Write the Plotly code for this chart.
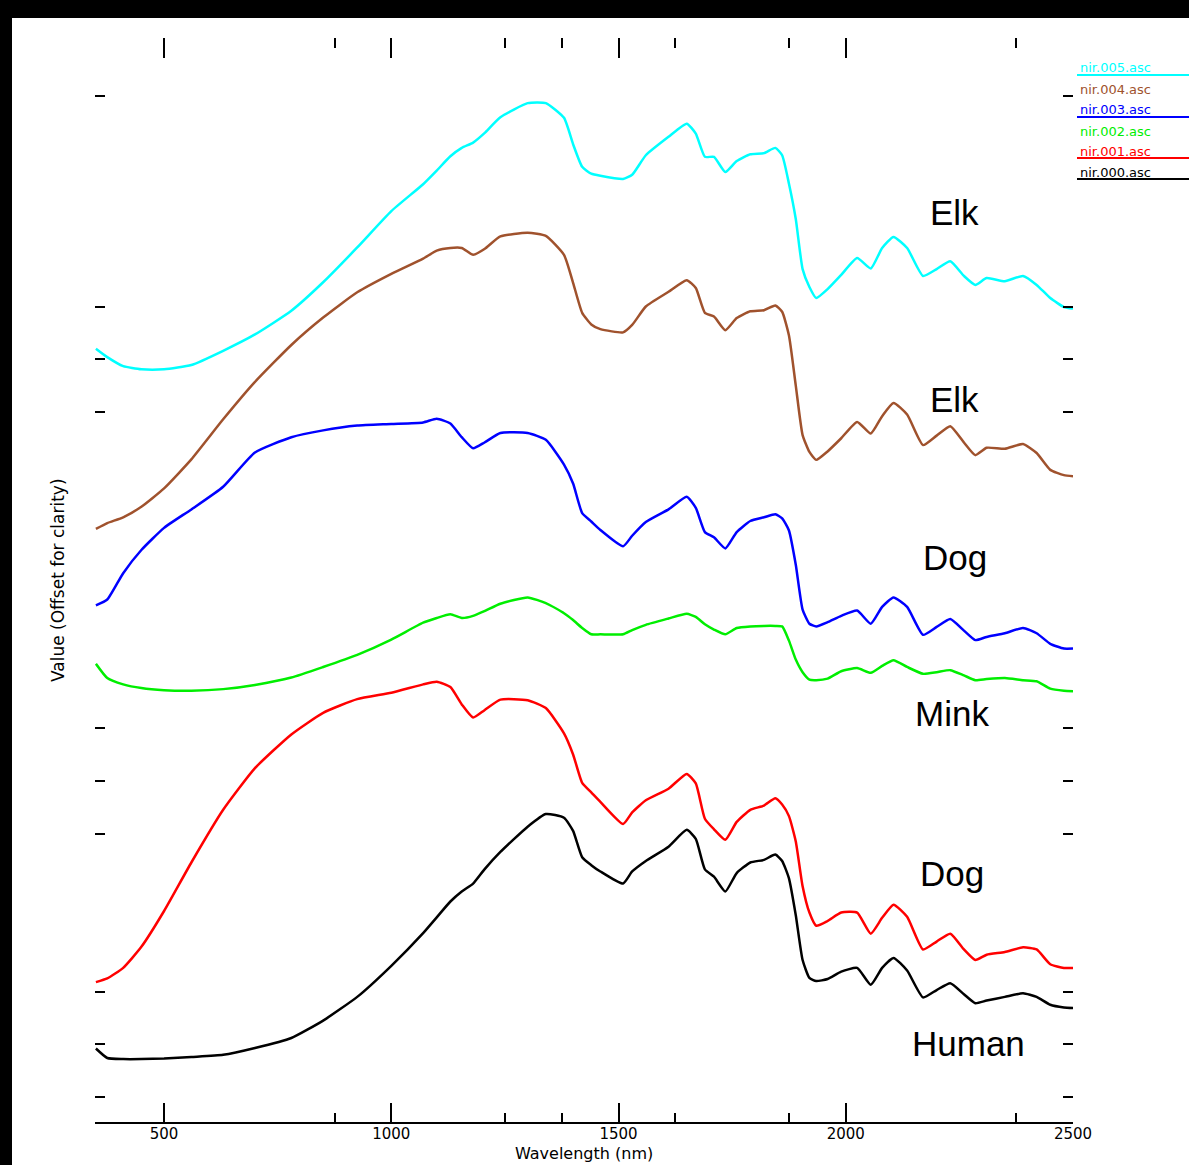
import plotly.graph_objects as go

# Wavelength grid (nm)
wavelength = [350, 375, 410, 450, 500, 560, 630, 700, 780, 850,
              925, 1000, 1070, 1100, 1130, 1155, 1180, 1205, 1240, 1300,
              1340, 1380, 1400, 1420, 1440, 1460, 1510, 1530, 1560, 1610,
              1650, 1670, 1690, 1710, 1735, 1760, 1790, 1820, 1845, 1860,
              1875, 1890, 1905, 1920, 1935, 1960, 1990, 2025, 2055, 2080,
              2105, 2135, 2170, 2200, 2230, 2260, 2285, 2310, 2350, 2390,
              2420, 2450, 2480, 2500]

elk_a = [1.420, 1.404, 1.387, 1.381, 1.381, 1.389, 1.416, 1.447, 1.492, 1.546,
         1.612, 1.681, 1.732, 1.758, 1.785, 1.801, 1.811, 1.829, 1.859, 1.886,
         1.886, 1.858, 1.808, 1.765, 1.752, 1.748, 1.742, 1.750, 1.787, 1.822,
         1.847, 1.828, 1.784, 1.784, 1.755, 1.776, 1.789, 1.791, 1.801, 1.787,
         1.733, 1.666, 1.571, 1.537, 1.516, 1.533, 1.560, 1.592, 1.572, 1.611,
         1.632, 1.611, 1.558, 1.571, 1.586, 1.558, 1.541, 1.554, 1.548, 1.558,
         1.541, 1.516, 1.499, 1.496]

elk_b = [1.078, 1.089, 1.100, 1.120, 1.155, 1.210, 1.286, 1.357, 1.427, 1.479,
         1.527, 1.562, 1.591, 1.606, 1.611, 1.611, 1.598, 1.609, 1.633, 1.640,
         1.634, 1.598, 1.545, 1.488, 1.466, 1.457, 1.451, 1.465, 1.500, 1.528,
         1.550, 1.535, 1.488, 1.481, 1.455, 1.478, 1.491, 1.493, 1.502, 1.490,
         1.445, 1.350, 1.256, 1.224, 1.209, 1.225, 1.250, 1.281, 1.259, 1.292,
         1.317, 1.295, 1.237, 1.255, 1.273, 1.242, 1.218, 1.232, 1.230, 1.239,
         1.222, 1.190, 1.180, 1.178]

dog_a = [0.933, 0.944, 0.994, 1.038, 1.080, 1.115, 1.158, 1.223, 1.252, 1.265,
         1.274, 1.277, 1.280, 1.287, 1.278, 1.252, 1.231, 1.242, 1.260, 1.260,
         1.247, 1.200, 1.164, 1.108, 1.092, 1.076, 1.045, 1.065, 1.091, 1.115,
         1.139, 1.118, 1.072, 1.062, 1.041, 1.072, 1.093, 1.100, 1.106, 1.098,
         1.075, 1.010, 0.925, 0.898, 0.893, 0.901, 0.913, 0.923, 0.898, 0.930,
         0.948, 0.930, 0.877, 0.892, 0.907, 0.885, 0.867, 0.873, 0.880, 0.890,
         0.880, 0.860, 0.851, 0.851]

mink = [0.822, 0.795, 0.783, 0.776, 0.772, 0.771, 0.774, 0.782, 0.796, 0.816,
        0.839, 0.868, 0.900, 0.909, 0.916, 0.909, 0.913, 0.922, 0.936, 0.948,
        0.937, 0.918, 0.905, 0.890, 0.878, 0.878, 0.878, 0.886, 0.896, 0.908,
        0.917, 0.911, 0.897, 0.887, 0.878, 0.890, 0.893, 0.894, 0.894, 0.893,
        0.866, 0.830, 0.806, 0.792, 0.791, 0.794, 0.808, 0.814, 0.805, 0.818,
        0.829, 0.816, 0.803, 0.806, 0.810, 0.800, 0.791, 0.793, 0.795, 0.791,
        0.789, 0.775, 0.771, 0.770]

dog_b = [0.218, 0.225, 0.245, 0.285, 0.353, 0.445, 0.545, 0.624, 0.688, 0.729,
         0.755, 0.767, 0.783, 0.788, 0.778, 0.745, 0.720, 0.734, 0.754, 0.753,
         0.738, 0.690, 0.650, 0.596, 0.578, 0.560, 0.518, 0.540, 0.563, 0.585,
         0.613, 0.595, 0.528, 0.508, 0.488, 0.522, 0.545, 0.553, 0.567, 0.555,
         0.533, 0.485, 0.400, 0.350, 0.325, 0.334, 0.350, 0.350, 0.310, 0.340,
         0.365, 0.342, 0.280, 0.295, 0.310, 0.280, 0.260, 0.270, 0.275, 0.284,
         0.280, 0.252, 0.245, 0.245]

human = [0.092, 0.074, 0.072, 0.072, 0.073, 0.076, 0.080, 0.093, 0.112, 0.145,
         0.190, 0.249, 0.311, 0.341, 0.371, 0.390, 0.405, 0.432, 0.465, 0.513,
         0.537, 0.530, 0.505, 0.455, 0.440, 0.428, 0.405, 0.428, 0.448, 0.475,
         0.507, 0.490, 0.432, 0.418, 0.390, 0.425, 0.445, 0.450, 0.460, 0.448,
         0.415, 0.345, 0.260, 0.226, 0.220, 0.224, 0.238, 0.245, 0.213, 0.245,
         0.264, 0.240, 0.189, 0.203, 0.216, 0.195, 0.178, 0.183, 0.190, 0.197,
         0.190, 0.175, 0.170, 0.169]

series_names = ["nir.005.asc", "nir.004.asc", "nir.003.asc",
                "nir.002.asc", "nir.001.asc", "nir.000.asc"]
series_values = [elk_a, elk_b, dog_a, mink, dog_b, human]
series_colors = ["#00ffff", "#a0522d", "#0000ff", "#00ee00", "#ff0000", "#000000"]

label_texts = ["Elk", "Elk", "Dog", "Mink", "Dog", "Human"]
label_x = [2240, 2240, 2240, 2234, 2234, 2269]
label_y = [1.679, 1.323, 1.023, 0.727, 0.425, 0.102]

x_tick_vals = [500, 1000, 1500, 2000, 2500]
x_tick_text = ["500", "1000", "1500", "2000", "2500"]
x_minor_vals = [875, 1250, 1375, 1625, 1875, 2375]
y_tick_vals = [0.0, 0.1, 0.2, 0.5, 0.6, 0.7, 1.3, 1.4, 1.5, 1.9]

W, H = 1189, 1165
ML, MR, MT, MB = 95, 116, 38, 42
PW, PH = W - ML - MR, H - MT - MB


def px_to_paper_x(px):
    return (px - ML) / PW


def py_to_paper_y(py):
    return (H - MB - py) / PH


fig = go.Figure()
for name, vals, col in zip(series_names, series_values, series_colors):
    fig.add_trace(go.Scatter(x=wavelength, y=vals, mode="lines", name=name,
                             line=dict(color=col, width=2.5, shape="spline", smoothing=0.5),
                             showlegend=False))

shapes = []
# white page area inside black frame
shapes.append(dict(type="rect", xref="paper", yref="paper",
                   x0=px_to_paper_x(12), x1=px_to_paper_x(W + 20),
                   y0=py_to_paper_y(H + 20), y1=py_to_paper_y(18),
                   fillcolor="white", line=dict(width=0), layer="below"))
# bottom axis line
shapes.append(dict(type="line", xref="paper", yref="paper", x0=0, x1=1, y0=0, y1=0,
                   line=dict(color="black", width=2)))

annotations = []
for t, x, y in zip(label_texts, label_x, label_y):
    annotations.append(dict(x=x, y=y, xref="x", yref="y", text=t, showarrow=False,
                            font=dict(family="Liberation Sans, Arial", size=35, color="black"),
                            xanchor="center", yanchor="middle"))

# legend block (top right)
leg_text_y = [68, 89, 110, 131, 152, 172]
leg_line_y = [75, None, 117, None, 158, 179]
for name, col, ty, ly in zip(series_names, series_colors, leg_text_y, leg_line_y):
    annotations.append(dict(x=px_to_paper_x(1078), y=py_to_paper_y(ty), xref="paper", yref="paper",
                            text=name, showarrow=False, xanchor="left", yanchor="middle",
                            font=dict(family="DejaVu Sans", size=13, color=col)))
    if ly is not None:
        shapes.append(dict(type="line", xref="paper", yref="paper",
                           x0=px_to_paper_x(1077), x1=px_to_paper_x(W + 10),
                           y0=py_to_paper_y(ly), y1=py_to_paper_y(ly),
                           line=dict(color=col, width=2)))

# axis titles
annotations.append(dict(x=0.5, y=py_to_paper_y(1153), xref="paper", yref="paper",
                        text="Wavelength (nm)", showarrow=False, xanchor="center", yanchor="middle",
                        font=dict(family="DejaVu Sans", size=16, color="black")))
annotations.append(dict(x=px_to_paper_x(58), y=py_to_paper_y(580), xref="paper", yref="paper",
                        text="Value (Offset for clarity)", showarrow=False, textangle=-90,
                        xanchor="center", yanchor="middle",
                        font=dict(family="DejaVu Sans", size=17, color="black")))

fig.update_layout(
    width=W, height=H,
    margin=dict(l=ML, r=MR, t=MT, b=MB, pad=0),
    paper_bgcolor="black", plot_bgcolor="white",
    shapes=shapes, annotations=annotations,
    xaxis=dict(range=[348, 2500], showgrid=False, zeroline=False, showline=False,
               ticks="inside", ticklen=20, tickwidth=2, tickcolor="black", mirror="ticks",
               tickmode="array", tickvals=x_tick_vals, ticktext=x_tick_text,
               tickfont=dict(family="DejaVu Sans", size=15, color="black"),
               minor=dict(tickmode="array", tickvals=x_minor_vals, ticks="inside",
                          ticklen=10, tickwidth=2, tickcolor="black", showgrid=False)),
    yaxis=dict(range=[-0.0493, 2.0095], showgrid=False, zeroline=False, showline=False,
               ticks="inside", ticklen=10, tickwidth=2, tickcolor="black", mirror="ticks",
               tickmode="array", tickvals=y_tick_vals, showticklabels=False),
)

fig.write_html("out.html", config={"displayModeBar": False},
               post_script="document.body.style.margin='0';document.body.style.background='black';")
